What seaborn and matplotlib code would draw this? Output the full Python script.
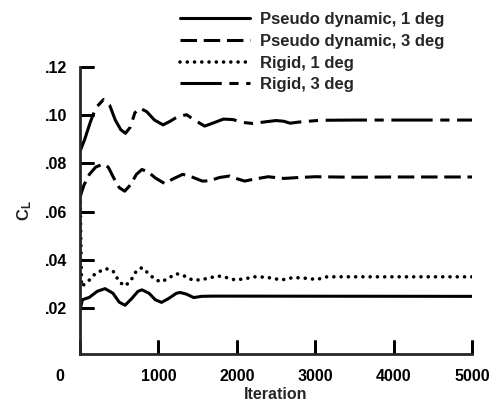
import numpy as np
import pandas as pd
import matplotlib.pyplot as plt
import matplotlib.transforms as mtransforms
import seaborn as sns

# values
pd1_x = [0, 30, 120, 220, 320, 420, 500, 575, 660, 740, 790, 880, 960, 1040, 1130, 1230, 1280, 1360, 1450, 1550, 1700, 5000]
pd1_y = [0.019, 0.0235, 0.0245, 0.0270, 0.0281, 0.0262, 0.0225, 0.0212, 0.0240, 0.0270, 0.0276, 0.0262, 0.0235, 0.0224, 0.0240, 0.0262, 0.0265, 0.0258, 0.0244, 0.0249, 0.0250, 0.0249]

pd3_x = [0, 50, 120, 200, 290, 360, 430, 500, 570, 640, 720, 790, 870, 960, 1080, 1180, 1310, 1420, 1560, 1650, 1780, 1910, 2000, 2100, 2220, 2400, 2600, 2800, 3000, 3500, 4000, 5000]
pd3_y = [0.066, 0.071, 0.0755, 0.0785, 0.0797, 0.0785, 0.0740, 0.0700, 0.0685, 0.0710, 0.0755, 0.0775, 0.0765, 0.0740, 0.0717, 0.0735, 0.0755, 0.0745, 0.0727, 0.0728, 0.0742, 0.0748, 0.0737, 0.0727, 0.0735, 0.0745, 0.0738, 0.0742, 0.0745, 0.0743, 0.0744, 0.0744]

r1_x = [0, 20, 100, 200, 330, 420, 500, 570, 640, 720, 790, 870, 960, 1040, 1130, 1230, 1320, 1440, 1550, 1680, 1790, 1880, 1980, 2100, 2250, 2400, 2570, 2720, 2850, 3020, 3150, 3500, 5000]
r1_y = [0.070, 0.029, 0.031, 0.0345, 0.0364, 0.0355, 0.0310, 0.0292, 0.0310, 0.0355, 0.0368, 0.0345, 0.0318, 0.0309, 0.0325, 0.0343, 0.0335, 0.0316, 0.0318, 0.0328, 0.0333, 0.0326, 0.0317, 0.0322, 0.0331, 0.0327, 0.0317, 0.0327, 0.0325, 0.0319, 0.0330, 0.0330, 0.0330]

r3_x = [0, 60, 130, 200, 300, 380, 450, 520, 580, 640, 700, 760, 850, 950, 1060, 1150, 1250, 1360, 1460, 1590, 1700, 1830, 1950, 2080, 2200, 2350, 2500, 2600, 2680, 2800, 3060, 3500, 4000, 5000]
r3_y = [0.085, 0.090, 0.097, 0.103, 0.1065, 0.104, 0.098, 0.094, 0.0925, 0.095, 0.1010, 0.1030, 0.1015, 0.098, 0.096, 0.0975, 0.0995, 0.1002, 0.098, 0.0955, 0.0968, 0.0984, 0.0982, 0.0970, 0.0966, 0.0972, 0.0978, 0.0975, 0.0967, 0.0972, 0.0979, 0.098, 0.098, 0.098]

labels = ["Pseudo dynamic, 1 deg", "Pseudo dynamic, 3 deg", "Rigid, 1 deg", "Rigid, 3 deg"]
xticks = [0, 1000, 2000, 3000, 4000, 5000]
yticks = [0.02, 0.04, 0.06, 0.08, 0.10, 0.12]
ytick_labels = [".02", ".04", ".06", ".08", ".10", ".12"]

sns.set_style("ticks")
plt.rcParams['font.family'] = ['Liberation Sans', 'DejaVu Sans']
plt.rcParams['font.weight'] = 'bold'
plt.rcParams['mathtext.fontset'] = 'custom'
plt.rcParams['mathtext.rm'] = 'Liberation Sans:bold'
for a in ['xtick', 'ytick']:
    plt.rcParams[a + '.direction'] = 'in'
    plt.rcParams[a + '.major.size'] = 10
    plt.rcParams[a + '.major.width'] = 2
    plt.rcParams[a + '.color'] = 'black'
    plt.rcParams[a + '.labelsize'] = 11.5
plt.rcParams['xtick.major.pad'] = 11
plt.rcParams['ytick.major.pad'] = 9

fig = plt.figure(figsize=(4.96, 4.05), dpi=100)
ax = fig.add_axes([80/496, 1-354/405, 392/496, 287/405])

styles = ["-", (0, (5.4, 2.2)), (0, (0.01, 2.0)), (0, (13.5, 2.5, 3, 2.5))]
series = [(pd1_x, pd1_y), (pd3_x, pd3_y), (r1_x, r1_y), (r3_x, r3_y)]
for (xs, ys), lab, ls in zip(series, labels, styles):
    sns.lineplot(x=xs, y=ys, ax=ax, color='black', linewidth=2.2, label=lab)
    ln = ax.lines[-1]
    ln.set_linestyle(ls)
    if lab == "Rigid, 1 deg":
        ln.set_dash_capstyle('round')
        ln.set_linewidth(2.6)

ax.set_xlim(0, 5000)
ax.set_ylim(0.001, 0.12)
ax.set_xticks(xticks)
ax.set_yticks(yticks)
ax.set_yticklabels(ytick_labels)
for s in ['top', 'right']:
    ax.spines[s].set_visible(False)
for s in ['left', 'bottom']:
    ax.spines[s].set_linewidth(2)

# inward tick marks drawn as short segments at the tick positions
tick_px = 10 / 72 * fig.dpi
ax.vlines(xticks, 0, tick_px / (287), transform=ax.get_xaxis_transform(),
          color='black', linewidth=2, clip_on=False)
ax.hlines(yticks, 0, tick_px / (392), transform=ax.get_yaxis_transform(),
          color='black', linewidth=2, clip_on=False)

ax.set_xlabel("Iteration", fontsize=11.5, fontweight='bold', labelpad=2)
ax.set_ylabel(r"$\mathrm{C_L}$", fontsize=12, labelpad=8)

ax.legend_.remove()
h, l = ax.get_legend_handles_labels()
fig.legend(h, l, loc='upper left', bbox_to_anchor=(172/496, 1-4/405), frameon=False,
           borderpad=0, handlelength=4.2, handletextpad=0.55, labelspacing=0.4,
           prop={'size': 12, 'weight': 'bold'})

# the "0" label sits left of the spine in the reference
lab0 = ax.xaxis.get_major_ticks()[0].label1
lab0.set_transform(lab0.get_transform() + mtransforms.ScaledTranslation(-20/100, 0, fig.dpi_scale_trans))

fig.savefig("out.png", dpi=100)
